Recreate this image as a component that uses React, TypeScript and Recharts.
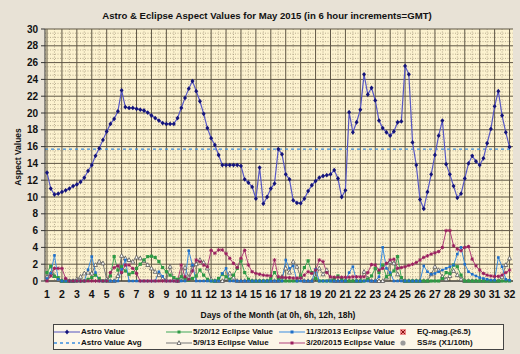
import React from 'react';
import { LineChart, Line, XAxis, YAxis, CartesianGrid, ReferenceLine } from 'recharts';

const dayLabels = ['1','2','3','4','5','6','7','8','9','10','11','12','13','14','15','16','17','18','19','20','21','22','23','24','25','26','27','28','29','30','31','32'];
const yTicks = [0, 2, 4, 6, 8, 10, 12, 14, 16, 18, 20, 22, 24, 26, 28, 30];

const astroValues = [
  12.9, 11.0, 10.3, 10.4, 10.6, 10.8, 11.0, 11.3, 11.5, 11.8,
  12.3, 13.1, 13.8, 14.9, 15.8, 16.8, 17.8, 18.7, 19.3, 20.2,
  22.7, 20.7, 20.6, 20.6, 20.5, 20.4, 20.3, 20.05, 19.7, 19.4,
  19.1, 18.8, 18.7, 18.7, 18.7, 19.4, 20.6, 21.8, 22.9, 23.8,
  22.6, 21.4, 19.9, 18.2, 17.0, 16.2, 15.0, 13.8, 13.8, 13.8,
  13.8, 13.8, 13.7, 12.1, 11.7, 11.2, 9.8, 13.5, 9.2, 10.0,
  11.0, 11.6, 15.7, 15.1, 12.7, 12.1, 9.6, 9.3, 9.25, 9.8,
  10.7, 11.4, 11.9, 12.3, 12.5, 12.6, 12.7, 13.2, 12.2, 10.0,
  10.8, 20.1, 17.7, 18.9, 20.4, 24.6, 22.2, 23.0, 21.5, 19.1,
  18.2, 17.7, 17.3, 17.8, 18.9, 19.0, 25.6, 24.6, 16.5, 13.8,
  9.7, 8.6, 10.6, 12.7, 15.0, 17.3, 19.1, 13.9, 12.7, 11.3,
  9.9, 10.4, 12.2, 14.0, 14.9, 14.25, 13.8, 14.6, 16.4, 18.1,
  20.8, 22.6, 19.7, 17.7, 15.95,
];
const astroAvg = 15.7;

const eclipse2012 = [
  1.0, 1.75, 0.55, 0.4, 0, 0, 0, 0, 0, 0,
  0, 0.2, 0.4, 0.7, 0.3, 0, 0, 0.6, 2.9, 1.3,
  1.7, 1.2, 0.8, 1.0, 1.5, 2.0, 2.5, 2.9, 2.95, 2.8,
  2.3, 1.6, 1.1, 0.7, 0.4, 0.2, 0.5, 0.3, 0.1, 0.3,
  0.6, 1.3, 0.7, 0.2, 0, 0, 0.3, 0.8, 0.5, 0.2,
  0.7, 1.5, 2.4, 1.0, 0.2, 0, 0, 0, 0, 0,
  0.3, 1.0, 0.3, 0, 0, 0, 0, 0, 0.6, 1.6,
  2.4, 1.0, 0.3, 0, 0, 0, 0, 0.2, 0.6, 0.2,
  0, 0, 0, 0, 0, 0, 0.2, 0.6, 1.5, 1.0,
  1.9, 0.5, 0.8, 1.2, 2.9, 0.4, 0, 0, 0, 0,
  0, 0, 0, 0, 0, 0, 0.3, 1.0, 0.9, 1.9,
  1.7, 0.7, 0, 0, 0, 0, 0, 0, 0, 0,
  0, 0, 0, 0, 0,
];

const eclipse2013May = [
  0.5, 0.9, 0.6, 0.2, 0, 0, 0, 0, 0.2, 0.5,
  0.9, 1.0, 0.9, 1.9, 2.3, 2.1, 0.2, 0, 0, 0.6,
  3.0, 2.7, 2.5, 2.3, 2.8, 2.7, 2.4, 1.9, 1.5, 1.1,
  0.7, 0.3, 0.1, 1.7, 0.2, 0, 0.4, 1.6, 0.4, 1.9,
  2.0, 2.5, 2.2, 1.5, 0.2, 0, 0, 0, 0.3, 0.9,
  0.4, 0, 0, 0, 0, 0, 0, 0, 0, 0,
  0, 0, 0, 0.5, 1.5, 1.0, 2.3, 1.7, 0.5, 0,
  0, 0, 0.4, 1.5, 0.8, 1.3, 0.3, 0, 0, 0,
  0, 0, 0, 0, 0, 1.1, 0.3, 0, 0, 0,
  0, 0.4, 2.3, 2.1, 0.8, 0.3, 0, 0, 0, 0,
  0, 0, 0, 0.8, 1.7, 1.3, 0.5, 0.2, 0.6, 1.2,
  0.7, 0.2, 0, 0, 0, 0, 0, 0, 0, 0,
  0, 0, 0.5, 1.9, 2.7,
];

const eclipse2013Nov = [
  0.3, 0.9, 3.05, 0.2, 0, 0, 0, 0, 0, 0,
  0, 1.35, 2.9, 1.0, 0, 0, 0, 0, 0, 0,
  1.4, 2.5, 0, 0, 0, 0, 0, 0, 0, 0,
  1.1, 0.55, 0, 0, 0, 0, 0, 0, 3.6, 1.9,
  0, 0, 0, 0, 0, 0, 0, 0.9, 1.5, 0,
  0, 0, 0, 0, 0, 0, 0, 0, 0, 0,
  0, 0, 0, 0, 2.5, 1.5, 1.8, 0, 0, 0,
  0, 0, 1.4, 0, 0, 0, 0, 0, 0, 0,
  0, 1.0, 1.7, 0, 0, 0, 0, 0, 0, 0.5,
  4.0, 1.5, 1.0, 0, 0, 0, 0, 0, 0, 0,
  0, 1.8, 1.1, 0.8, 0.9, 1.1, 1.3, 1.5, 1.7, 1.9,
  3.2, 4.0, 2.0, 1.1, 0.8, 0.6, 0.4, 0.3, 0.2, 0.1,
  0.1, 2.8, 1.7, 0.2, 0.1,
];

const eclipse2015 = [
  0, 0.6, 1.5, 1.5, 1.5, 0.3, 0, 0, 0, 0,
  0, 0, 0, 0, 0, 0, 0, 1.0, 1.6, 1.8,
  1.0, 1.9, 1.9, 1.5, 0.9, 0, 0, 0, 0, 0,
  0, 0, 0, 0, 0, 0, 1.9, 0.5, 0.2, 1.2,
  2.5, 2.3, 1.9, 1.7, 3.65, 3.3, 3.7, 3.7, 3.25, 2.7,
  2.1, 1.6, 2.7, 3.65, 1.9, 1.1, 0.9, 0.8, 0.7, 0.65,
  0.6, 2.5, 0.5, 0.45, 0.4, 0.4, 0.35, 0.35, 0.35, 0.7,
  1.1, 0.9, 1.3, 2.5, 2.3, 1.0, 0.5, 0.45, 0.45, 0.45,
  0.45, 0.45, 0.5, 0.5, 0.5, 0.5, 1.0, 1.95, 1.9, 1.3,
  1.5, 2.1, 2.5, 2.6, 1.5, 1.6, 1.7, 1.85, 2.0, 2.2,
  2.5, 2.8, 3.0, 3.2, 3.35, 3.5, 4.0, 6.0, 6.0, 4.2,
  3.8, 3.6, 4.0, 4.1, 2.6, 1.8, 1.3, 0.9, 0.7, 0.6,
  0.55, 0.55, 0.7, 1.0, 1.3,
];

const data = astroValues.map((v, i) => ({
  i,
  astro: v,
  e12: eclipse2012[i],
  e13a: eclipse2013May[i],
  e13b: eclipse2013Nov[i],
  e15: eclipse2015[i],
}));

const xTicks = dayLabels.map((_, k) => k * 4);
const minorX: number[] = [];
for (let k = 0; k <= 124; k += 2) if (k % 4 !== 0) minorX.push(k);
const minorY: number[] = [];
for (let k = 0.5; k < 30; k += 0.5) if (k % 2 !== 0) minorY.push(k);

const FONT = '"Liberation Sans", Arial, sans-serif';

const DiamondDot = (p: any) => {
  const { cx, cy } = p;
  if (cx == null || cy == null) return null;
  return <path d={`M${cx} ${cy - 2.4}L${cx + 2}${' '}${cy}L${cx} ${cy + 2.4}L${cx - 2} ${cy}Z`} fill="#14147a" />;
};
const SquareDot = (color: string, s: number) => (p: any) => {
  const { cx, cy } = p;
  if (cx == null || cy == null) return null;
  return <rect x={cx - s / 2} y={cy - s / 2} width={s} height={s} fill={color} />;
};
const TriDot = (p: any) => {
  const { cx, cy } = p;
  if (cx == null || cy == null) return null;
  return <path d={`M${cx} ${cy - 2.3}L${cx + 2} ${cy + 1.5}L${cx - 2} ${cy + 1.5}Z`} fill="#fff" stroke="#555" strokeWidth={0.8} />;
};
const StarDot = (p: any) => {
  const { cx, cy } = p;
  if (cx == null || cy == null) return null;
  return (
    <g stroke="#9a1f5e" strokeWidth={1}>
      <line x1={cx - 1.8} y1={cy} x2={cx + 1.8} y2={cy} />
      <line x1={cx} y1={cy - 1.8} x2={cx} y2={cy + 1.8} />
      <line x1={cx - 1.3} y1={cy - 1.3} x2={cx + 1.3} y2={cy + 1.3} />
      <line x1={cx - 1.3} y1={cy + 1.3} x2={cx + 1.3} y2={cy - 1.3} />
    </g>
  );
};

const legendItems = [
  { x: 54, y: 331.5, label: 'Astro Value', kind: 'astro' },
  { x: 54, y: 342.5, label: 'Astro Value Avg', kind: 'avg' },
  { x: 166, y: 331.5, label: '5/20/12 Eclipse Value', kind: 'green' },
  { x: 166, y: 342.5, label: '5/9/13 Eclipse Value', kind: 'gray' },
  { x: 279, y: 331.5, label: '11/3/2013 Eclipse Value', kind: 'blue' },
  { x: 279, y: 342.5, label: '3/20/2015 Eclipse Value', kind: 'magenta' },
  { x: 398, y: 331.5, label: 'EQ-mag.(\u22656.5)', kind: 'eq' },
  { x: 398, y: 342.5, label: 'SS#s (X1/10th)', kind: 'ss' },
];

const LegendSample = ({ kind }: { kind: string }) => {
  const w = 26;
  const c = 13;
  if (kind === 'eq') {
    return (
      <svg width={12} height={8} style={{ display: 'block' }}>
        <rect x={2} y={1} width={6} height={6} fill="#f08a8a" />
        <path d="M3 2L7 6M7 2L3 6" stroke="#8a1010" strokeWidth={1} />
      </svg>
    );
  }
  if (kind === 'ss') {
    return (
      <svg width={12} height={8} style={{ display: 'block' }}>
        <circle cx={5} cy={4} r={2.6} fill="#9a9a9a" />
      </svg>
    );
  }
  let stroke = '#5555c0';
  let dash: string | undefined;
  let marker: React.ReactNode = null;
  if (kind === 'astro') marker = <path d={`M${c} 1.6L${c + 2} 4L${c} 6.4L${c - 2} 4Z`} fill="#14147a" />;
  if (kind === 'avg') { stroke = '#3a8ee0'; dash = '3 3'; }
  if (kind === 'green') { stroke = '#40a858'; marker = <rect x={c - 1.5} y={2.5} width={3} height={3} fill="#2e9a45" />; }
  if (kind === 'gray') { stroke = '#777'; marker = <path d={`M${c} 1.7L${c + 2} 5.5L${c - 2} 5.5Z`} fill="#fff" stroke="#555" strokeWidth={0.8} />; }
  if (kind === 'blue') { stroke = '#3b8de0'; marker = <rect x={c - 1.5} y={2.5} width={3} height={3} fill="#1f6fc8" />; }
  if (kind === 'magenta') { stroke = '#b0407a'; marker = <rect x={c - 1.5} y={2.5} width={3} height={3} fill="#9a1f5e" />; }
  return (
    <svg width={w} height={8} style={{ display: 'block' }}>
      <line x1={0} y1={4} x2={w} y2={4} stroke={stroke} strokeWidth={kind === 'avg' ? 1.4 : 1} strokeDasharray={dash} />
      {marker}
    </svg>
  );
};

export default function App() {
  return (
    <div style={{ position: 'absolute', left: 0, top: 0, width: 520, height: 354, background: '#e8e2d6', overflow: 'hidden', fontFamily: FONT }}>
      <div style={{ position: 'absolute', left: 0, top: 10, width: 534, textAlign: 'center', fontSize: 9.6, fontWeight: 'bold', color: '#111', lineHeight: '12px' }}>
        Astro &amp; Eclipse Aspect Values for May 2015 (in 6 hour increments=GMT)
      </div>
      <LineChart width={520} height={354} data={data} margin={{ top: 29, right: 7, bottom: 43, left: 0 }}>
        <CartesianGrid fill="#fcf2cf" horizontalValues={minorY} verticalValues={minorX} stroke="#a79b7f" strokeDasharray="1 1.5" strokeWidth={0.8} />
        <CartesianGrid fillOpacity={0} horizontalValues={yTicks} verticalValues={xTicks} stroke="#5f5645" strokeWidth={1} />
        <XAxis
          type="number"
          dataKey="i"
          domain={[-0.54, 124.93]}
          ticks={xTicks}
          allowDataOverflow
          interval={0}
          tickFormatter={(v: number) => dayLabels[Math.round(v / 4)]}
          tickLine={false}
          tickSize={0}
          tickMargin={10}
          axisLine={{ stroke: '#333' }}
          tick={{ fill: '#111', fontSize: 10.5, fontWeight: 'bold', fontFamily: FONT }}
          height={30}
          label={{
            content: () => (
              <text x={278} y={315} textAnchor="middle" dominantBaseline="central" fontFamily={FONT} fontSize={8.5} fontWeight="bold" fill="#111">
                Days of the Month (at 0h, 6h, 12h, 18h)
              </text>
            ),
          }}
        />
        <YAxis
          type="number"
          domain={[0, 30]}
          ticks={yTicks}
          interval={0}
          width={45}
          tickSize={4}
          tickMargin={3}
          tickLine={{ stroke: '#333' }}
          axisLine={{ stroke: '#333' }}
          tick={{ fill: '#111', fontSize: 10, fontWeight: 'bold', fontFamily: FONT }}
          label={{
            content: () => (
              <text x={18} y={157} transform="rotate(-90 18 157)" textAnchor="middle" dominantBaseline="central" fontFamily={FONT} fontSize={8.5} fontWeight="bold" fill="#111">
                Aspect Values
              </text>
            ),
          }}
        />
        <ReferenceLine y={astroAvg} stroke="#3a8ee0" strokeWidth={1.4} strokeDasharray="3 3" />
        <Line dataKey="e13a" stroke="#777" strokeWidth={1} dot={TriDot} isAnimationActive={false} />
        <Line dataKey="e12" stroke="#40a858" strokeWidth={1} dot={SquareDot('#2e9a45', 3.2)} isAnimationActive={false} />
        <Line dataKey="e13b" stroke="#3b8de0" strokeWidth={1} dot={SquareDot('#1f6fc8', 2.6)} isAnimationActive={false} />
        <Line dataKey="e15" stroke="#b0407a" strokeWidth={1} dot={StarDot} isAnimationActive={false} />
        <Line dataKey="astro" stroke="#5858c4" strokeWidth={1.2} dot={DiamondDot} isAnimationActive={false} />
      </LineChart>
      <div style={{ position: 'absolute', left: 52.5, top: 324, width: 449, height: 23.5, border: '1px solid #444', background: '#fcf6e8' }} />
      {legendItems.map((it) => (
        <div key={it.label} style={{ position: 'absolute', left: it.x, top: it.y - 5, height: 10, display: 'flex', alignItems: 'center', fontSize: 8, fontWeight: 'bold', color: '#111', whiteSpace: 'nowrap' }}>
          <LegendSample kind={it.kind} />
          <span style={{ marginLeft: it.kind === 'eq' || it.kind === 'ss' ? 7 : 1 }}>{it.label}</span>
        </div>
      ))}
    </div>
  );
}
